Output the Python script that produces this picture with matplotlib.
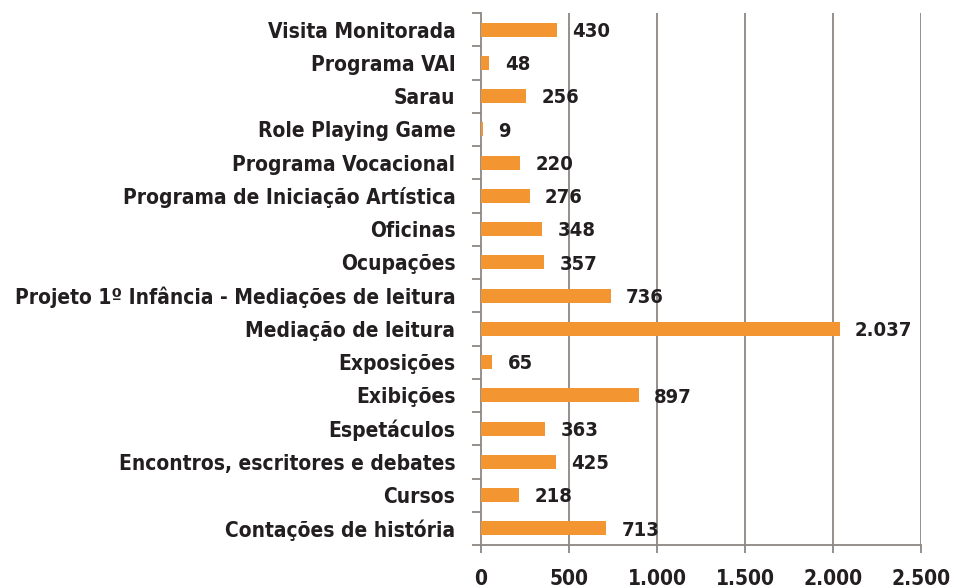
import matplotlib
matplotlib.use("Agg")
import matplotlib.pyplot as plt
import matplotlib.ticker as ticker
from matplotlib import font_manager
import numpy as np

# categories from top to bottom, as shown in the chart
categories = [
    "Visita Monitorada",
    "Programa VAI",
    "Sarau",
    "Role Playing Game",
    "Programa Vocacional",
    "Programa de Iniciação Artística",
    "Oficinas",
    "Ocupações",
    "Projeto 1º Infância - Mediações de leitura",
    "Mediação de leitura",
    "Exposições",
    "Exibições",
    "Espetáculos",
    "Encontros, escritores e debates",
    "Cursos",
    "Contações de história",
]
values = [430, 48, 256, 9, 220, 276, 348, 357, 736, 2037, 65, 897, 363, 425, 218, 713]
x_ticks = [0, 500, 1000, 1500, 2000, 2500]

bar_color = "#F39530"
grid_color = "#8C8782"
text_color = "#231F20"

# condensed bold face, closest to the original condensed typeface
fp = font_manager.FontProperties(family="DejaVu Sans", stretch="condensed", weight="bold", size=15)
fp_val = font_manager.FontProperties(family="DejaVu Sans", stretch="condensed", weight="bold", size=14.5)


def thousands(v):
    return f"{int(v):,}".replace(",", ".")


fig = plt.figure(figsize=(9.54, 5.88), dpi=100)
ax = fig.add_axes([481 / 954, 1 - 545 / 588, 440 / 954, 532 / 588])

n = len(categories)
ypos = np.arange(n)[::-1]
ax.barh(ypos, values, height=0.42, color=bar_color, zorder=3)

for y, v in zip(ypos, values):
    ax.text(v + 88, y - 0.05, thousands(v), va="center", ha="left",
            color=text_color, fontproperties=fp_val)

ax.set_xlim(0, 2500)
ax.set_ylim(-0.5, n - 0.5)

# vertical gridlines
for xt in x_ticks[1:]:
    ax.axvline(xt, color=grid_color, lw=1.3, zorder=1)

ax.set_xticks(x_ticks)
ax.set_xticklabels([thousands(t) for t in x_ticks], fontproperties=fp, color=text_color)
ax.tick_params(axis="x", length=6, width=1.3, color=grid_color, pad=11)

ax.set_yticks(ypos)
ax.set_yticklabels(categories, fontproperties=fp, color=text_color)
ax.tick_params(axis="y", which="major", length=0, pad=18.5)
ax.yaxis.set_minor_locator(ticker.FixedLocator(np.arange(-0.5, n, 1.0)))
ax.tick_params(axis="y", which="minor", length=6.5, width=1.3, color=grid_color)

for side in ["top", "right"]:
    ax.spines[side].set_visible(False)
for side in ["left", "bottom"]:
    ax.spines[side].set_color(grid_color)
    ax.spines[side].set_linewidth(1.3)

fig.savefig("out.png", dpi=100)
